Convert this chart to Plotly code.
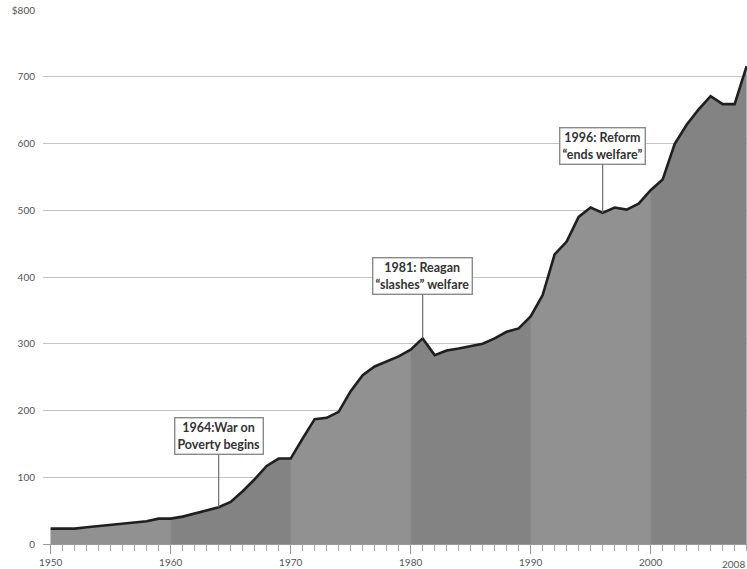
import plotly.graph_objects as go

# Annual values, 1950-2008 (dollars, billions)
years = list(range(1950, 2009))
spending = [
    23, 23, 23, 25, 27, 29, 31, 32, 34, 38,   # 1950-1959
    38, 41, 46, 51, 55, 63, 79, 97, 117, 128,  # 1960-1969
    128, 158, 187, 189, 198, 229, 253, 266, 273, 281,  # 1970-1979
    291, 308, 283, 290, 293, 297, 300, 308, 318, 323,  # 1980-1989
    341, 373, 434, 453, 490, 504, 496, 504, 501, 510,  # 1990-1999
    530, 546, 599, 628, 651, 671, 659, 659, 716,       # 2000-2008
]

base_color = "#838383"
# Lighter decades drawn over the darker base fill
light_decades = [1950, 1970, 1990]
light_color = "#919191"

y_tick_vals = [0, 100, 200, 300, 400, 500, 600, 700, 800]
y_tick_text = ["0", "100", "200", "300", "400", "500", "600", "700", "$800"]
x_tick_vals = [1950, 1960, 1970, 1980, 1990, 2000, 2008]
x_tick_text = ["1950", "1960", "1970", "1980", "1990", "2000", "2008"]

events = [
    (1964, "1964:War on<br>Poverty begins", -71),
    (1981, "1981: Reagan<br>\u201cslashes\u201d welfare", -62),
    (1996, "1996: Reform<br>\u201cends welfare\u201d", -67),
]

fig = go.Figure()

# Base area under the whole series
fig.add_trace(go.Scatter(
    x=years, y=spending, mode="lines", line=dict(width=0),
    fill="tozeroy", fillcolor=base_color,
    hoverinfo="skip", showlegend=False,
))

# Alternating lighter decade bands
for start in light_decades:
    xs = [y for y in years if start <= y <= start + 10]
    ys = [spending[years.index(y)] for y in xs]
    fig.add_trace(go.Scatter(
        x=xs, y=ys, mode="lines", line=dict(width=0),
        fill="tozeroy", fillcolor=light_color,
        hoverinfo="skip", showlegend=False,
    ))

# Outline of the series
fig.add_trace(go.Scatter(
    x=years, y=spending, mode="lines",
    line=dict(color="#1f1f1f", width=2.6),
    showlegend=False,
))

for yr, label, dy in events:
    fig.add_annotation(
        x=yr, y=spending[years.index(yr)], xref="x", yref="y",
        text=label, showarrow=True, arrowhead=0, arrowwidth=1.2,
        arrowcolor="#6e6e6e", ax=0, ay=dy,
        font=dict(family="Lato", size=12.5, color="#333333", weight="bold"),
        bgcolor="white", bordercolor="#8a8a8a", borderwidth=1.4, borderpad=2,
        align="center",
    )

# Last year label, right-aligned to the chart edge so it stays whole
fig.add_annotation(
    x=1, y=0, xref="paper", yref="paper",
    text=x_tick_text[-1], showarrow=False,
    xanchor="right", yanchor="top", yshift=-12,
    font=dict(family="Lato", size=10, color="#555555"),
)

fig.update_layout(
    width=747, height=569,
    margin=dict(l=43, r=0, t=10, b=25),
    paper_bgcolor="white", plot_bgcolor="white",
    font=dict(family="Lato", size=10, color="#666666"),
    xaxis=dict(
        range=[1949.36, 2008.03],
        tickvals=x_tick_vals[:-1], ticktext=x_tick_text[:-1],
        ticks="outside", ticklen=9, tickcolor="#999999", tickwidth=1,
        showline=True, linecolor="#999999", linewidth=1,
        showgrid=False, zeroline=False,
        minor=dict(dtick=1, tick0=1950, ticks="outside", ticklen=6,
                   tickcolor="#aaaaaa", showgrid=False),
        tickfont=dict(size=10, color="#555555"),
    ),
    yaxis=dict(
        range=[0, 800],
        tickvals=y_tick_vals, ticktext=y_tick_text,
        showgrid=True, gridcolor="#c4c4c4", gridwidth=1.2,
        zeroline=False, ticks="", ticklabelstandoff=7,
        tickfont=dict(size=10, color="#555555"),
    ),
)

fig.write_html("out.html")
